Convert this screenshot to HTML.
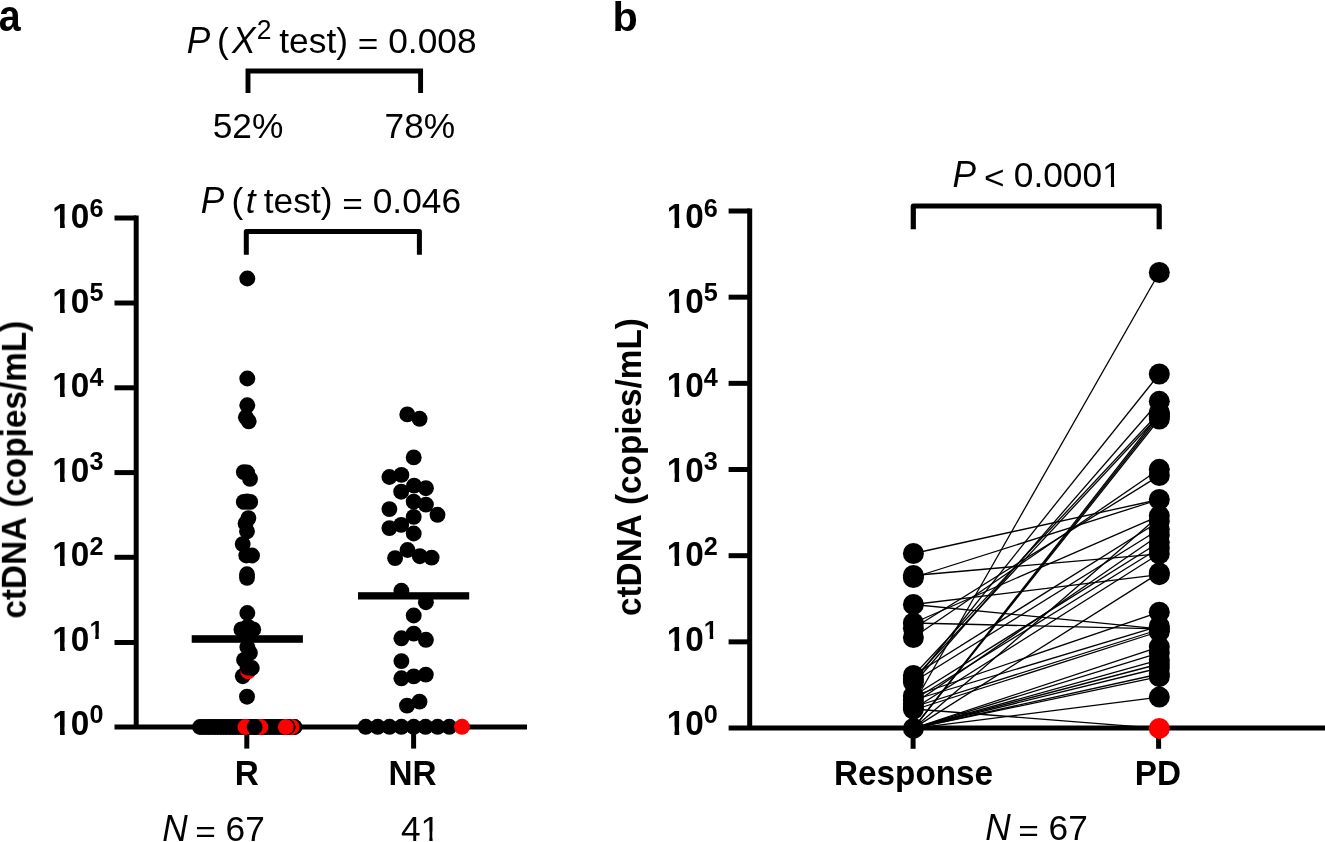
<!DOCTYPE html>
<html><head><meta charset="utf-8"><style>
html,body{margin:0;padding:0;background:#fff;}
body{width:1325px;height:842px;overflow:hidden;font-family:"Liberation Sans", sans-serif;}
svg{display:block;}
</style></head><body>
<svg width="1325" height="842" viewBox="0 0 1325 842">
<rect width="1325" height="842" fill="#fff"/>
<g stroke="#000" stroke-width="5" fill="none" stroke-linecap="butt">
<line x1="136.2" y1="215.5" x2="136.2" y2="727"/>
<line x1="114.5" y1="727" x2="527" y2="727"/>
<line x1="114.5" y1="218" x2="136.2" y2="218"/>
<line x1="114.5" y1="303" x2="136.2" y2="303"/>
<line x1="114.5" y1="387.8" x2="136.2" y2="387.8"/>
<line x1="114.5" y1="472.6" x2="136.2" y2="472.6"/>
<line x1="114.5" y1="557.3" x2="136.2" y2="557.3"/>
<line x1="114.5" y1="642.5" x2="136.2" y2="642.5"/>
<line x1="246.8" y1="727" x2="246.8" y2="748.6"/>
<line x1="413.6" y1="727" x2="413.6" y2="748.6"/>
</g>
<circle cx="200.0" cy="727.0" r="7.95" fill="#000"/>
<circle cx="202.9" cy="727.0" r="7.95" fill="#000"/>
<circle cx="205.9" cy="727.0" r="7.95" fill="#000"/>
<circle cx="208.8" cy="727.0" r="7.95" fill="#000"/>
<circle cx="211.8" cy="727.0" r="7.95" fill="#000"/>
<circle cx="214.8" cy="727.0" r="7.95" fill="#000"/>
<circle cx="217.7" cy="727.0" r="7.95" fill="#000"/>
<circle cx="220.7" cy="727.0" r="7.95" fill="#000"/>
<circle cx="223.6" cy="727.0" r="7.95" fill="#000"/>
<circle cx="226.5" cy="727.0" r="7.95" fill="#000"/>
<circle cx="229.5" cy="727.0" r="7.95" fill="#000"/>
<circle cx="232.4" cy="727.0" r="7.95" fill="#000"/>
<circle cx="235.4" cy="727.0" r="7.95" fill="#000"/>
<circle cx="238.3" cy="727.0" r="7.95" fill="#000"/>
<circle cx="241.3" cy="727.0" r="7.95" fill="#000"/>
<circle cx="244.2" cy="727.0" r="7.95" fill="#000"/>
<circle cx="247.2" cy="727.0" r="7.95" fill="#000"/>
<circle cx="250.1" cy="727.0" r="7.95" fill="#000"/>
<circle cx="253.1" cy="727.0" r="7.95" fill="#000"/>
<circle cx="256.0" cy="727.0" r="7.95" fill="#000"/>
<circle cx="259.0" cy="727.0" r="7.95" fill="#000"/>
<circle cx="261.9" cy="727.0" r="7.95" fill="#000"/>
<circle cx="264.9" cy="727.0" r="7.95" fill="#000"/>
<circle cx="267.8" cy="727.0" r="7.95" fill="#000"/>
<circle cx="270.8" cy="727.0" r="7.95" fill="#000"/>
<circle cx="273.8" cy="727.0" r="7.95" fill="#000"/>
<circle cx="276.7" cy="727.0" r="7.95" fill="#000"/>
<circle cx="279.6" cy="727.0" r="7.95" fill="#000"/>
<circle cx="282.6" cy="727.0" r="7.95" fill="#000"/>
<circle cx="285.5" cy="727.0" r="7.95" fill="#000"/>
<circle cx="288.5" cy="727.0" r="7.95" fill="#000"/>
<circle cx="291.4" cy="727.0" r="7.95" fill="#000"/>
<circle cx="294.4" cy="727.0" r="7.95" fill="#000"/>
<circle cx="245.4" cy="727.0" r="7.95" fill="red"/>
<circle cx="260.4" cy="727.0" r="7.95" fill="red"/>
<circle cx="254.7" cy="727.0" r="7.95" fill="#000"/>
<circle cx="294.4" cy="727.0" r="7.95" fill="#000"/>
<circle cx="291.7" cy="727.0" r="7.95" fill="red"/>
<circle cx="287.6" cy="727.0" r="7.95" fill="#000"/>
<circle cx="285.8" cy="727.0" r="7.95" fill="red"/>
<circle cx="247.3" cy="278.5" r="7.95" fill="#000"/>
<circle cx="247.3" cy="378.5" r="7.95" fill="#000"/>
<circle cx="247.3" cy="405.3" r="7.95" fill="#000"/>
<circle cx="245.9" cy="417.3" r="7.95" fill="#000"/>
<circle cx="248.7" cy="421.3" r="7.95" fill="#000"/>
<circle cx="243.8" cy="472.1" r="7.95" fill="#000"/>
<circle cx="247.1" cy="472.5" r="7.95" fill="#000"/>
<circle cx="250.0" cy="478.9" r="7.95" fill="#000"/>
<circle cx="243.8" cy="501.9" r="7.95" fill="#000"/>
<circle cx="250.2" cy="501.9" r="7.95" fill="#000"/>
<circle cx="247.0" cy="501.5" r="7.95" fill="#000"/>
<circle cx="248.4" cy="518.1" r="7.95" fill="#000"/>
<circle cx="245.6" cy="523.4" r="7.95" fill="#000"/>
<circle cx="247.0" cy="531.3" r="7.95" fill="#000"/>
<circle cx="242.7" cy="544.1" r="7.95" fill="#000"/>
<circle cx="246.3" cy="555.5" r="7.95" fill="#000"/>
<circle cx="252.0" cy="555.5" r="7.95" fill="#000"/>
<circle cx="247.0" cy="574.3" r="7.95" fill="#000"/>
<circle cx="247.0" cy="577.8" r="7.95" fill="#000"/>
<circle cx="247.3" cy="613.0" r="7.95" fill="#000"/>
<circle cx="241.4" cy="629.4" r="7.95" fill="#000"/>
<circle cx="253.2" cy="629.4" r="7.95" fill="#000"/>
<circle cx="247.8" cy="626.7" r="7.95" fill="#000"/>
<circle cx="247.5" cy="630.5" r="7.95" fill="#000"/>
<circle cx="247.3" cy="647.0" r="7.95" fill="#000"/>
<circle cx="249.9" cy="652.9" r="7.95" fill="#000"/>
<circle cx="244.1" cy="659.9" r="7.95" fill="#000"/>
<circle cx="242.8" cy="676.2" r="7.95" fill="#000"/>
<circle cx="247.0" cy="696.7" r="7.95" fill="#000"/>
<circle cx="248.1" cy="671.3" r="7.95" fill="red"/>
<circle cx="251.8" cy="668.0" r="7.95" fill="#000"/>
<circle cx="247.6" cy="667.6" r="7.95" fill="#000"/>
<circle cx="407.3" cy="414.4" r="7.95" fill="#000"/>
<circle cx="419.6" cy="418.8" r="7.95" fill="#000"/>
<circle cx="413.7" cy="457.4" r="7.95" fill="#000"/>
<circle cx="389.4" cy="477.0" r="7.95" fill="#000"/>
<circle cx="401.4" cy="474.9" r="7.95" fill="#000"/>
<circle cx="414.1" cy="485.6" r="7.95" fill="#000"/>
<circle cx="425.9" cy="488.2" r="7.95" fill="#000"/>
<circle cx="401.2" cy="491.7" r="7.95" fill="#000"/>
<circle cx="413.7" cy="501.7" r="7.95" fill="#000"/>
<circle cx="425.9" cy="504.6" r="7.95" fill="#000"/>
<circle cx="389.4" cy="509.1" r="7.95" fill="#000"/>
<circle cx="437.5" cy="514.8" r="7.95" fill="#000"/>
<circle cx="413.7" cy="516.9" r="7.95" fill="#000"/>
<circle cx="401.2" cy="524.9" r="7.95" fill="#000"/>
<circle cx="389.4" cy="528.1" r="7.95" fill="#000"/>
<circle cx="413.7" cy="533.5" r="7.95" fill="#000"/>
<circle cx="407.5" cy="550.0" r="7.95" fill="#000"/>
<circle cx="395.1" cy="558.1" r="7.95" fill="#000"/>
<circle cx="419.8" cy="556.2" r="7.95" fill="#000"/>
<circle cx="431.6" cy="557.6" r="7.95" fill="#000"/>
<circle cx="401.4" cy="590.8" r="7.95" fill="#000"/>
<circle cx="425.9" cy="602.2" r="7.95" fill="#000"/>
<circle cx="413.7" cy="615.5" r="7.95" fill="#000"/>
<circle cx="413.7" cy="633.6" r="7.95" fill="#000"/>
<circle cx="401.4" cy="638.3" r="7.95" fill="#000"/>
<circle cx="425.9" cy="639.8" r="7.95" fill="#000"/>
<circle cx="401.4" cy="661.1" r="7.95" fill="#000"/>
<circle cx="401.4" cy="678.3" r="7.95" fill="#000"/>
<circle cx="413.7" cy="676.4" r="7.95" fill="#000"/>
<circle cx="425.8" cy="674.6" r="7.95" fill="#000"/>
<circle cx="407.0" cy="705.6" r="7.95" fill="#000"/>
<circle cx="419.5" cy="701.6" r="7.95" fill="#000"/>
<circle cx="365.7" cy="726.8" r="7.95" fill="#000"/>
<circle cx="377.7" cy="726.8" r="7.95" fill="#000"/>
<circle cx="389.5" cy="726.8" r="7.95" fill="#000"/>
<circle cx="401.4" cy="726.8" r="7.95" fill="#000"/>
<circle cx="413.7" cy="726.8" r="7.95" fill="#000"/>
<circle cx="425.5" cy="726.8" r="7.95" fill="#000"/>
<circle cx="437.6" cy="726.8" r="7.95" fill="#000"/>
<circle cx="449.3" cy="726.8" r="7.95" fill="#000"/>
<circle cx="462.0" cy="726.8" r="7.95" fill="red"/>
<rect x="191.7" y="635.2" width="111.2" height="7.6" fill="#000"/>
<rect x="358" y="592.2" width="111.2" height="7.3" fill="#000"/>
<path d="M248 93 L248 71 L420.6 71 L420.6 93" stroke="#000" stroke-width="4.9" fill="none" stroke-linejoin="miter"/>
<path d="M246.3 254.7 L246.3 231.5 L419.4 231.5 L419.4 254.7" stroke="#000" stroke-width="5" fill="none" stroke-linejoin="round"/>
<g stroke="#000" stroke-width="5" fill="none">
<line x1="749.7" y1="208.5" x2="749.7" y2="728.02"/>
<line x1="728.6" y1="728.02" x2="1325" y2="728.02"/>
<line x1="728.6" y1="211.0" x2="749.7" y2="211.0"/>
<line x1="728.6" y1="297.17" x2="749.7" y2="297.17"/>
<line x1="728.6" y1="383.34000000000003" x2="749.7" y2="383.34000000000003"/>
<line x1="728.6" y1="469.51" x2="749.7" y2="469.51"/>
<line x1="728.6" y1="555.6800000000001" x2="749.7" y2="555.6800000000001"/>
<line x1="728.6" y1="641.85" x2="749.7" y2="641.85"/>
<line x1="913.1" y1="728.02" x2="913.1" y2="748.8"/>
<line x1="1158.6" y1="728.02" x2="1158.6" y2="748.8"/>
</g>
<g stroke="#000" stroke-width="1.3" fill="none">
<line x1="913.4" y1="553.5" x2="1159.3" y2="499.5"/>
<line x1="913.4" y1="577.5" x2="1159.3" y2="499.5"/>
<line x1="913.4" y1="575.5" x2="1159.3" y2="553.8"/>
<line x1="913.4" y1="604.5" x2="1159.3" y2="574.7"/>
<line x1="913.4" y1="604.5" x2="1159.3" y2="628.9"/>
<line x1="913.4" y1="623.0" x2="1159.3" y2="628.9"/>
<line x1="913.4" y1="623.0" x2="1159.3" y2="515.8"/>
<line x1="913.4" y1="628.3" x2="1159.3" y2="475.6"/>
<line x1="913.4" y1="637.5" x2="1159.3" y2="469.3"/>
<line x1="913.4" y1="675.5" x2="1159.3" y2="412.5"/>
<line x1="913.4" y1="679.0" x2="1159.3" y2="415.0"/>
<line x1="913.4" y1="682.0" x2="1159.3" y2="374.0"/>
<line x1="913.4" y1="684.0" x2="1159.3" y2="401.3"/>
<line x1="913.4" y1="696.0" x2="1159.3" y2="612.2"/>
<line x1="913.4" y1="704.0" x2="1159.3" y2="272.5"/>
<line x1="913.4" y1="709.0" x2="1159.3" y2="728.4"/>
<line x1="913.4" y1="700.0" x2="1159.3" y2="626.2"/>
<line x1="913.4" y1="707.0" x2="1159.3" y2="629.5"/>
<line x1="913.4" y1="710.0" x2="1159.3" y2="631.5"/>
<line x1="913.4" y1="675.5" x2="1159.3" y2="521.2"/>
<line x1="913.4" y1="682.0" x2="1159.3" y2="529.3"/>
<line x1="913.4" y1="696.0" x2="1159.3" y2="542.3"/>
<line x1="913.4" y1="700.0" x2="1159.3" y2="548.0"/>
<line x1="913.4" y1="704.0" x2="1159.3" y2="535.0"/>
<line x1="913.4" y1="709.0" x2="1159.3" y2="553.8"/>
<line x1="913.4" y1="728.4" x2="1159.3" y2="414.0"/>
<line x1="913.4" y1="728.4" x2="1159.3" y2="416.5"/>
<line x1="913.4" y1="728.4" x2="1159.3" y2="419.0"/>
<line x1="913.4" y1="728.4" x2="1159.3" y2="515.8"/>
<line x1="913.4" y1="728.4" x2="1159.3" y2="572.9"/>
<line x1="913.4" y1="728.4" x2="1159.3" y2="646.8"/>
<line x1="913.4" y1="728.4" x2="1159.3" y2="652.8"/>
<line x1="913.4" y1="728.4" x2="1159.3" y2="659.9"/>
<line x1="913.4" y1="728.4" x2="1159.3" y2="664.0"/>
<line x1="913.4" y1="728.4" x2="1159.3" y2="668.0"/>
<line x1="913.4" y1="728.4" x2="1159.3" y2="674.0"/>
<line x1="913.4" y1="728.4" x2="1159.3" y2="676.7"/>
<line x1="913.4" y1="728.4" x2="1159.3" y2="697.1"/>
</g>
<circle cx="913.4" cy="553.5" r="10.5" fill="#000"/>
<circle cx="913.4" cy="575.5" r="10.5" fill="#000"/>
<circle cx="913.4" cy="577.5" r="10.5" fill="#000"/>
<circle cx="913.4" cy="604.5" r="10.5" fill="#000"/>
<circle cx="913.4" cy="623.0" r="10.5" fill="#000"/>
<circle cx="913.4" cy="628.3" r="10.5" fill="#000"/>
<circle cx="913.4" cy="637.5" r="10.5" fill="#000"/>
<circle cx="913.4" cy="675.5" r="10.5" fill="#000"/>
<circle cx="913.4" cy="679.0" r="10.5" fill="#000"/>
<circle cx="913.4" cy="682.0" r="10.5" fill="#000"/>
<circle cx="913.4" cy="696.0" r="10.5" fill="#000"/>
<circle cx="913.4" cy="700.0" r="10.5" fill="#000"/>
<circle cx="913.4" cy="704.0" r="10.5" fill="#000"/>
<circle cx="913.4" cy="707.0" r="10.5" fill="#000"/>
<circle cx="913.4" cy="709.0" r="10.5" fill="#000"/>
<circle cx="913.4" cy="728.4" r="10.5" fill="#000"/>
<circle cx="1159.3" cy="272.5" r="10.5" fill="#000"/>
<circle cx="1159.3" cy="374.0" r="10.5" fill="#000"/>
<circle cx="1159.3" cy="401.3" r="10.5" fill="#000"/>
<circle cx="1159.3" cy="412.5" r="10.5" fill="#000"/>
<circle cx="1159.3" cy="414.0" r="10.5" fill="#000"/>
<circle cx="1159.3" cy="415.0" r="10.5" fill="#000"/>
<circle cx="1159.3" cy="416.5" r="10.5" fill="#000"/>
<circle cx="1159.3" cy="419.0" r="10.5" fill="#000"/>
<circle cx="1159.3" cy="469.3" r="10.5" fill="#000"/>
<circle cx="1159.3" cy="475.6" r="10.5" fill="#000"/>
<circle cx="1159.3" cy="499.5" r="10.5" fill="#000"/>
<circle cx="1159.3" cy="515.8" r="10.5" fill="#000"/>
<circle cx="1159.3" cy="521.2" r="10.5" fill="#000"/>
<circle cx="1159.3" cy="529.3" r="10.5" fill="#000"/>
<circle cx="1159.3" cy="535.0" r="10.5" fill="#000"/>
<circle cx="1159.3" cy="542.3" r="10.5" fill="#000"/>
<circle cx="1159.3" cy="548.0" r="10.5" fill="#000"/>
<circle cx="1159.3" cy="553.8" r="10.5" fill="#000"/>
<circle cx="1159.3" cy="572.9" r="10.5" fill="#000"/>
<circle cx="1159.3" cy="574.7" r="10.5" fill="#000"/>
<circle cx="1159.3" cy="612.2" r="10.5" fill="#000"/>
<circle cx="1159.3" cy="626.2" r="10.5" fill="#000"/>
<circle cx="1159.3" cy="628.9" r="10.5" fill="#000"/>
<circle cx="1159.3" cy="629.5" r="10.5" fill="#000"/>
<circle cx="1159.3" cy="631.5" r="10.5" fill="#000"/>
<circle cx="1159.3" cy="646.8" r="10.5" fill="#000"/>
<circle cx="1159.3" cy="652.8" r="10.5" fill="#000"/>
<circle cx="1159.3" cy="659.9" r="10.5" fill="#000"/>
<circle cx="1159.3" cy="664.0" r="10.5" fill="#000"/>
<circle cx="1159.3" cy="668.0" r="10.5" fill="#000"/>
<circle cx="1159.3" cy="674.0" r="10.5" fill="#000"/>
<circle cx="1159.3" cy="676.7" r="10.5" fill="#000"/>
<circle cx="1159.3" cy="697.1" r="10.5" fill="#000"/>
<circle cx="1159.3" cy="728.4" r="10.5" fill="red"/>
<path d="M913.3 229.2 L913.3 206 L1159.2 206 L1159.2 229.2" stroke="#000" stroke-width="5.2" fill="none" stroke-linejoin="round"/>
<clipPath id="nofoot" clipPathUnits="userSpaceOnUse"><path clip-rule="evenodd" d="M-10 -10H1340V860H-10ZM422.21 831.58h7.13v10.50h-7.13ZM432.58 831.58h6.90v10.50h-6.90ZM53.45 219.81h6.61v10.07h-6.61ZM64.75 219.81h6.23v10.07h-6.23ZM53.45 304.29h6.61v10.07h-6.61ZM64.75 304.29h6.23v10.07h-6.23ZM53.45 388.77h6.61v10.07h-6.61ZM64.75 388.77h6.23v10.07h-6.23ZM53.45 473.25h6.61v10.07h-6.61ZM64.75 473.25h6.23v10.07h-6.23ZM53.45 557.73h6.61v10.07h-6.61ZM64.75 557.73h6.23v10.07h-6.23ZM53.45 642.21h6.61v10.07h-6.61ZM64.75 642.21h6.23v10.07h-6.23ZM89.99 632.49h5.23v7.99h-5.23ZM98.80 632.49h4.96v7.99h-4.96ZM53.45 726.69h6.61v10.07h-6.61ZM64.75 726.69h6.23v10.07h-6.23ZM667.90 219.81h6.61v10.07h-6.61ZM679.20 219.81h6.23v10.07h-6.23ZM667.90 304.29h6.61v10.07h-6.61ZM679.20 304.29h6.23v10.07h-6.23ZM667.90 388.77h6.61v10.07h-6.61ZM679.20 388.77h6.23v10.07h-6.23ZM667.90 473.25h6.61v10.07h-6.61ZM679.20 473.25h6.23v10.07h-6.23ZM667.90 557.73h6.61v10.07h-6.61ZM679.20 557.73h6.23v10.07h-6.23ZM667.90 642.21h6.61v10.07h-6.61ZM679.20 642.21h6.23v10.07h-6.23ZM704.44 632.49h5.23v7.99h-5.23ZM713.25 632.49h4.96v7.99h-4.96ZM667.90 726.69h6.61v10.07h-6.61ZM679.20 726.69h6.23v10.07h-6.23ZM1103.82 177.98h7.13v10.50h-7.13ZM1114.19 177.98h6.90v10.50h-6.90Z"/></clipPath><filter id="gray" x="-10" y="-10" width="1345" height="862" filterUnits="userSpaceOnUse" color-interpolation-filters="sRGB"><feColorMatrix type="saturate" values="0"/></filter><g filter="url(#gray)"><g clip-path="url(#nofoot)" font-family='"Liberation Sans", sans-serif' fill="#000" style="font-kerning:none"><text transform="translate(-1.30,30.80) scale(0.95,1.05)" font-size="41.4" font-weight="bold">a</text><text transform="translate(612.60,30.80)" font-size="41.4" font-weight="bold">b</text><text transform="translate(186.80,53.00) scale(1.0,1.035)" font-size="35.3" font-style="italic">P</text><text transform="translate(217.10,53.00)" font-size="35.3">(</text><text transform="translate(232.00,53.00) scale(1.0,1.035)" font-size="35.3" font-style="italic">X</text><text transform="translate(256.70,38.80) scale(1.0,1.02)" font-size="26.5">2</text><text transform="translate(279.30,53.00)" font-size="35.3">test)</text><text transform="translate(357.80,54.00) scale(1.0,0.854)" font-size="35.3">=</text><text transform="translate(388.20,53.00) scale(1.0,1.02)" font-size="35.3">0.008</text><text transform="translate(212.70,138.30) scale(1.0,1.02)" font-size="35.3">52%</text><text transform="translate(384.60,138.30) scale(1.0,1.02)" font-size="35.3">78%</text><text transform="translate(200.80,213.00) scale(1.0,1.035)" font-size="35.3" font-style="italic">P</text><text transform="translate(231.45,213.00)" font-size="35.3">(</text><text transform="translate(245.80,213.00)" font-size="35.3" font-style="italic">t</text><text transform="translate(263.80,213.00)" font-size="35.3">test)</text><text transform="translate(342.30,214.00) scale(1.0,0.854)" font-size="35.3">=</text><text transform="translate(372.70,213.00) scale(1.0,1.02)" font-size="35.3">0.046</text><text transform="translate(234.78,784.80) scale(1.0,1.035)" font-size="33.3" font-weight="bold">R</text><text transform="translate(388.55,784.80) scale(1.0,1.035)" font-size="33.3" font-weight="bold">NR</text><text transform="translate(162.15,840.60) scale(1.0,1.035)" font-size="35.3" font-style="italic">N</text><text transform="translate(195.20,841.60) scale(1.0,0.854)" font-size="35.3">=</text><text transform="translate(225.60,840.60) scale(1.0,1.02)" font-size="35.3">67</text><text transform="translate(400.90,840.60) scale(1.0,1.02)" font-size="35.3">41</text><text transform="translate(52.35,228.40) scale(1.0,1.03)" font-size="33.3" font-weight="bold">10</text><text transform="translate(89.40,216.60) scale(1.0,1.03)" font-size="25.2" font-weight="bold">6</text><text transform="translate(52.35,312.88) scale(1.0,1.03)" font-size="33.3" font-weight="bold">10</text><text transform="translate(89.40,301.08) scale(1.0,1.03)" font-size="25.2" font-weight="bold">5</text><text transform="translate(52.35,397.36) scale(1.0,1.03)" font-size="33.3" font-weight="bold">10</text><text transform="translate(89.40,385.56) scale(1.0,1.03)" font-size="25.2" font-weight="bold">4</text><text transform="translate(52.35,481.84) scale(1.0,1.03)" font-size="33.3" font-weight="bold">10</text><text transform="translate(89.40,470.04) scale(1.0,1.03)" font-size="25.2" font-weight="bold">3</text><text transform="translate(52.35,566.32) scale(1.0,1.03)" font-size="33.3" font-weight="bold">10</text><text transform="translate(89.40,554.52) scale(1.0,1.03)" font-size="25.2" font-weight="bold">2</text><text transform="translate(52.35,650.80) scale(1.0,1.03)" font-size="33.3" font-weight="bold">10</text><text transform="translate(89.40,639.00) scale(1.0,1.03)" font-size="25.2" font-weight="bold">1</text><text transform="translate(52.35,735.28) scale(1.0,1.03)" font-size="33.3" font-weight="bold">10</text><text transform="translate(89.40,723.48) scale(1.0,1.03)" font-size="25.2" font-weight="bold">0</text><text transform="translate(666.80,228.40) scale(1.0,1.03)" font-size="33.3" font-weight="bold">10</text><text transform="translate(703.85,216.60) scale(1.0,1.03)" font-size="25.2" font-weight="bold">6</text><text transform="translate(666.80,312.88) scale(1.0,1.03)" font-size="33.3" font-weight="bold">10</text><text transform="translate(703.85,301.08) scale(1.0,1.03)" font-size="25.2" font-weight="bold">5</text><text transform="translate(666.80,397.36) scale(1.0,1.03)" font-size="33.3" font-weight="bold">10</text><text transform="translate(703.85,385.56) scale(1.0,1.03)" font-size="25.2" font-weight="bold">4</text><text transform="translate(666.80,481.84) scale(1.0,1.03)" font-size="33.3" font-weight="bold">10</text><text transform="translate(703.85,470.04) scale(1.0,1.03)" font-size="25.2" font-weight="bold">3</text><text transform="translate(666.80,566.32) scale(1.0,1.03)" font-size="33.3" font-weight="bold">10</text><text transform="translate(703.85,554.52) scale(1.0,1.03)" font-size="25.2" font-weight="bold">2</text><text transform="translate(666.80,650.80) scale(1.0,1.03)" font-size="33.3" font-weight="bold">10</text><text transform="translate(703.85,639.00) scale(1.0,1.03)" font-size="25.2" font-weight="bold">1</text><text transform="translate(666.80,735.28) scale(1.0,1.03)" font-size="33.3" font-weight="bold">10</text><text transform="translate(703.85,723.48) scale(1.0,1.03)" font-size="25.2" font-weight="bold">0</text><text transform="translate(25.80,618.60) rotate(-90) scale(1.0,1.03)" font-size="33.3" font-weight="bold">ctDNA (copies/mL)</text><text transform="translate(640.90,616.00) rotate(-90) scale(1.0,1.03)" font-size="33.3" font-weight="bold">ctDNA (copies/mL)</text><text transform="translate(952.60,187.00) scale(1.0,1.035)" font-size="35.3" font-style="italic">P</text><text transform="translate(983.95,189.40) scale(1.0,0.95)" font-size="35.3">&lt;</text><text transform="translate(1013.80,187.00) scale(1.0,1.02)" font-size="35.3">0.0001</text><text transform="translate(834.02,784.80) scale(1.0,1.035)" font-size="33.3" font-weight="bold">Response</text><text transform="translate(1134.87,784.80) scale(1.0,1.035)" font-size="33.3" font-weight="bold">PD</text><text transform="translate(985.15,840.40) scale(1.0,1.035)" font-size="35.3" font-style="italic">N</text><text transform="translate(1018.20,841.40) scale(1.0,0.854)" font-size="35.3">=</text><text transform="translate(1048.60,840.40) scale(1.0,1.02)" font-size="35.3">67</text></g></g>
</svg>
</body></html>
